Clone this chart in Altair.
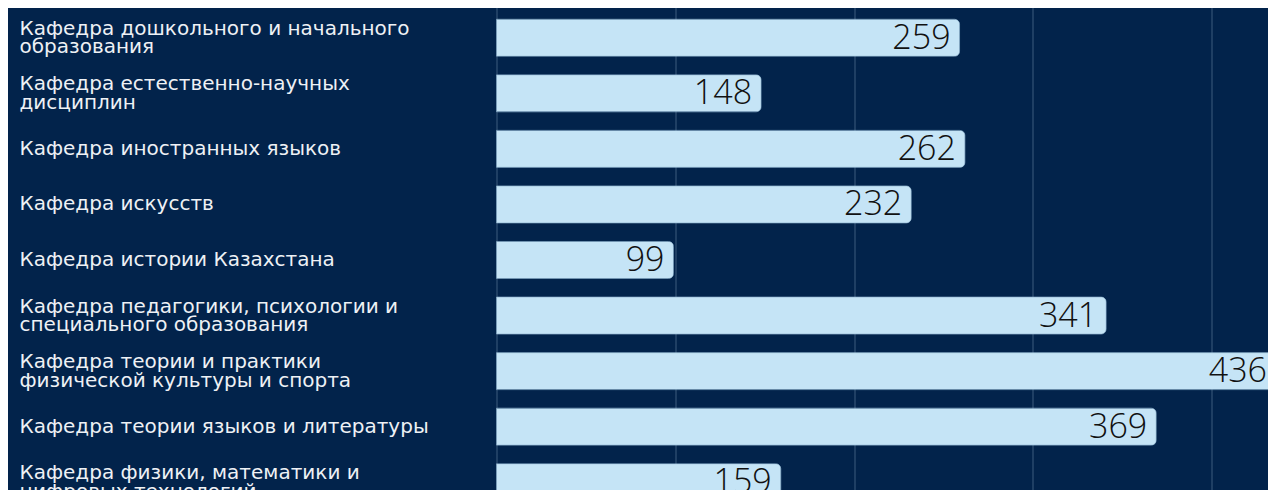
import altair as alt
import pandas as pd

departments = [
    "Кафедра дошкольного и начального\nобразования",
    "Кафедра естественно-научных\nдисциплин",
    "Кафедра иностранных языков",
    "Кафедра искусств",
    "Кафедра истории Казахстана",
    "Кафедра педагогики, психологии и\nспециального образования",
    "Кафедра теории и практики\nфизической культуры и спорта",
    "Кафедра теории языков и литературы",
    "Кафедра физики, математики и\nцифровых технологий",
]
counts = [259, 148, 262, 232, 99, 341, 436, 369, 159]

df = pd.DataFrame({"dept": departments, "count": counts})

LABEL_FONT = "DejaVu Sans"
NUM_FONT = "Open Sans"

x_enc = alt.X(
    "count:Q",
    scale=alt.Scale(domain=[0, 436], range=[0, 779.5], nice=False, zero=True),
    axis=alt.Axis(
        values=[0, 100, 200, 300, 400],
        labels=False,
        ticks=False,
        domain=False,
        title=None,
        grid=True,
        gridColor="#6f8aa8",
        gridOpacity=0.55,
        gridWidth=1,
    ),
)
y_enc = alt.Y(
    "dept:N",
    sort=departments,
    scale=alt.Scale(range=[0, 500], paddingInner=0.334, paddingOuter=0.167),
    axis=alt.Axis(
        title=None,
        ticks=False,
        domain=False,
        grid=False,
        labelAlign="left",
        labelBaseline="middle",
        labelPadding=477.5,
        labelOffset={
            "condition": {"test": "indexof(datum.value, '\\n') >= 0", "value": -9},
            "value": 0,
        },
        labelColor="#eef1f5",
        labelFont=LABEL_FONT,
        labelFontSize=20,
        labelLineHeight=18.5,
        labelLimit=470,
        labelExpr="split(datum.label, '\\n')",
    ),
)

bars = alt.Chart(df).mark_bar(
    color="#c5e4f6",
    cornerRadiusEnd=5,
    stroke="#9fc3dc",
    strokeWidth=0.6,
).encode(x=x_enc, y=y_enc)

labels = alt.Chart(df).mark_text(
    align="right",
    baseline="middle",
    dx=-9,
    dy=1,
    font=NUM_FONT,
    fontSize=34,
    fontWeight=300,
    color="#111111",
).encode(x="count:Q", y=alt.Y("dept:N", sort=departments), text="count:Q")

chart = (
    alt.layer(bars, labels)
    .properties(
        width=771.5,
        height=480,
        background="#02234b",
        autosize=alt.AutoSizeParams(type="none"),
        padding={"left": 488.5, "top": 2, "right": 0, "bottom": 0},
    )
    .configure_view(stroke=None)
)

chart.save("out.html", embed_options={"renderer": "svg", "actions": False})
